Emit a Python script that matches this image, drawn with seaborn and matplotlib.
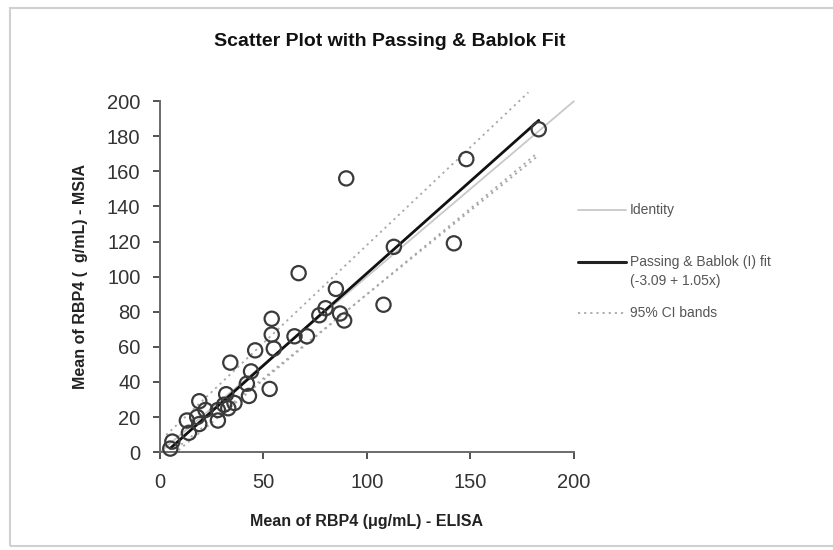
import numpy as np
import pandas as pd
import matplotlib
matplotlib.use("Agg")
import matplotlib.pyplot as plt
import seaborn as sns
from matplotlib.lines import Line2D
from matplotlib.patches import Rectangle

# ---- data ----
elisa = [5, 6, 13, 14, 18, 19, 19, 22, 28, 28, 31, 32, 33, 36, 34, 42, 43, 44, 46,
         53, 54, 54, 55, 65, 71, 67, 77, 80, 85, 87, 89, 90, 108, 113, 142, 148, 183]
msia = [2, 6, 18, 11, 20, 16, 29, 24, 18, 24, 27, 33, 25, 28, 51, 39, 32, 46, 58,
        36, 76, 67, 59, 66, 66, 102, 78, 82, 93, 79, 75, 156, 84, 117, 119, 167, 184]

identity_x = [0, 200]
fit_intercept, fit_slope = -3.09, 1.05
fit_x = [5, 183]
ci_upper = (6.4, 1.116, [3, 178])
ci_lower_a = (-7.7, 0.977, [9, 182])
ci_lower_b = (-5.6, 0.955, [8, 182])

ticks_x = [0, 50, 100, 150, 200]
ticks_y = [0, 20, 40, 60, 80, 100, 120, 140, 160, 180, 200]

sns.set_theme(style="white")
plt.rcParams['font.family'] = ['Liberation Sans', 'DejaVu Sans']

fig = plt.figure(figsize=(8.33, 5.5), dpi=100)
fig.patches.append(Rectangle((0.012, 0.008), 1.05, 0.978, transform=fig.transFigure,
                             fill=False, edgecolor='#d0d0d0', lw=1.5))
ax = fig.add_axes([0.192, 0.178, 0.497, 0.638])

def band(params):
    b0, b1, xr = params
    xs = np.array(xr, dtype=float)
    return pd.DataFrame({'x': xs, 'y': b0 + b1 * xs})

dotted = dict(color='#a8a8a8', lw=1.3, linestyle=(0, (1.2, 2.2)))
for p in (ci_upper, ci_lower_a, ci_lower_b):
    d = band(p)
    sns.lineplot(data=d, x='x', y='y', ax=ax, **dotted)
idx = np.array(identity_x, dtype=float)
sns.lineplot(x=idx, y=idx, ax=ax, color='#c8c8c8', lw=1.3)
fx = np.array(fit_x, dtype=float)
sns.lineplot(x=fx, y=fit_intercept + fit_slope * fx, ax=ax, color='#111111', lw=2.0)
for line in ax.lines:
    line.set_clip_on(False)

sns.scatterplot(x=elisa, y=msia, ax=ax, marker='o', s=105, facecolor='none',
                edgecolor='#3a3a3a', linewidth=1.6, zorder=5, clip_on=False)

ax.set_xlim(0, 200)
ax.set_ylim(0, 200)
ax.set_xticks(ticks_x)
ax.set_yticks(ticks_y)
ax.tick_params(axis='both', labelsize=14.5, colors='#333333', length=5, width=1.2,
               direction='out', bottom=True, left=True)
ax.tick_params(axis='x', pad=10)
ax.tick_params(axis='y', pad=9)
for s in ['top', 'right']:
    ax.spines[s].set_visible(False)
for s in ['left', 'bottom']:
    ax.spines[s].set_color('#6a6a6a')
    ax.spines[s].set_linewidth(1.4)
ax.set_xlabel('Mean of RBP4 (μg/mL) - ELISA', fontsize=11.5, fontweight='bold',
              color='#222222', labelpad=16)
ax.set_ylabel('Mean of RBP4 (  g/mL) - MSIA', fontsize=11.5, fontweight='bold',
              color='#222222', labelpad=14)
ax.set_facecolor('white')

fig.text(390 / 833, 1 - 42 / 550, 'Scatter Plot with Passing & Bablok Fit',
         ha='center', va='center', fontsize=14, fontweight='bold', color='#111111')

# legend
def leg_line(y_px, **kw):
    fig.lines.append(Line2D([578 / 833, 626 / 833], [1 - y_px / 550] * 2,
                            transform=fig.transFigure, **kw))
leg_line(210, color='#c8c8c8', lw=1.3)
leg_line(262, color='#222222', lw=2.2)
leg_line(313, **dotted)
tk = dict(fontsize=10, color='#555555', va='center', ha='left')
fig.text(630 / 833, 1 - 210 / 550, 'Identity', **tk)
fig.text(630 / 833, 1 - 262 / 550, 'Passing & Bablok (I) fit', **tk)
fig.text(630 / 833, 1 - 281 / 550, '(-3.09 + 1.05x)', **tk)
fig.text(630 / 833, 1 - 313 / 550, '95% CI bands', **tk)

fig.savefig('out.png', dpi=100, facecolor='white')
